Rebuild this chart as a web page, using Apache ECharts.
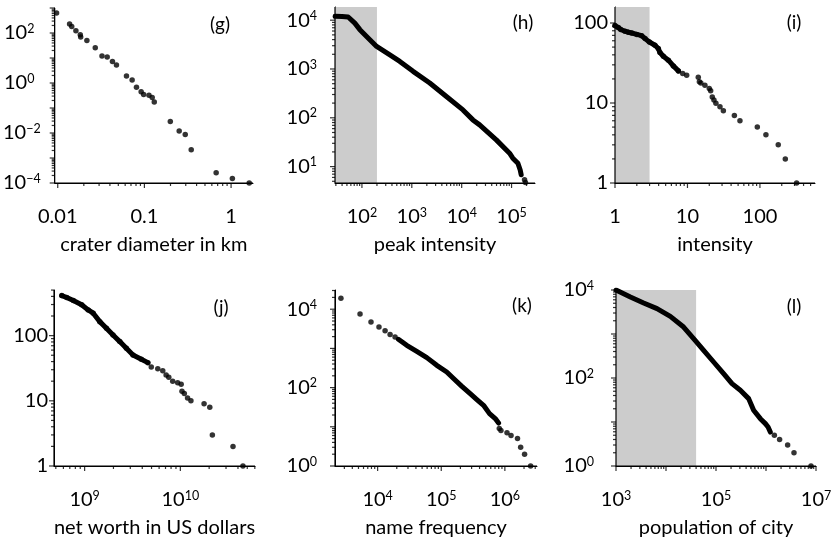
<!DOCTYPE html>
<html>
<head>
<meta charset="utf-8">
<script src="https://cdn.jsdelivr.net/npm/echarts@6/dist/echarts.min.js"></script>
</head>
<body style="margin:0">
<div id="chart" style="width:837px;height:542px"></div>
<script>
// data (complementary cumulative distributions, log-log)

// (g) crater diameter in km
const craterDiam  = [0.0097, 0.0137, 0.0145, 0.0162, 0.0182, 0.0184, 0.0217, 0.0271, 0.0324, 0.0372, 0.0428, 0.0476, 0.0621, 0.0722, 0.081, 0.0917, 0.098, 0.113, 0.123, 0.130, 0.199, 0.252, 0.296, 0.347, 0.673, 1.035, 1.62]
const craterCount = [630, 230, 184, 124, 85, 69, 50, 26, 12, 11, 7.3, 5.2, 1.9, 1.32, 0.67, 0.45, 0.35, 0.32, 0.265, 0.174, 0.0291, 0.012, 0.0088, 0.00215, 0.00026, 0.00015, 0.0001]
const craterXTicks = [0.01, 0.1, 1]
const craterYTicks = [1e-4, 1e-2, 1, 1e2]

// (h) peak intensity
const peakX = [29, 40, 53, 72, 91, 124, 197, 363, 575, 1060, 2290, 4940, 10600, 16800, 22900, 49400, 91200, 106000, 134000, 149000, 156000]
const peakY = [12000, 11900, 11600, 8700, 6400, 4650, 2900, 1950, 1430, 895, 516, 273, 145, 90.6, 71.6, 35.3, 18.8, 14.9, 11.7, 8.5, 6.8]
const peakTailX = [182000, 190000]
const peakTailY = [5.4, 4.7]
const peakShade = [29, 200]
const peakXTicks = [1e2, 1e3, 1e4, 1e5]
const peakYTicks = [1e1, 1e2, 1e3, 1e4]

// (i) intensity
const intenX = [1.0, 1.11, 1.2, 1.37, 1.53, 1.70, 2.0, 2.33, 2.6, 2.98, 3.56, 3.96, 4.17, 4.65, 5.45, 6.38, 7.5]
const intenY = [93, 87.7, 83, 79, 76.6, 75, 72, 69.5, 63.8, 57.9, 52.7, 48, 42.7, 38.4, 34.3, 29.1, 25.2]
const intenDotX = [8.6, 9.75, 14.1, 14.6, 15.3, 17.4, 20, 20.9, 22, 23.2, 24.7, 28.1, 31.3, 44.4, 53, 92, 121, 179, 224, 321]
const intenDotY = [23.4, 22.3, 21, 18.4, 17.8, 16.7, 15.2, 14.2, 11.9, 10.9, 9.9, 9, 8, 7, 6, 5, 4, 3, 2, 1]
const intenShade = [1, 3]
const intenXTicks = [1, 10, 100]
const intenYTicks = [1, 10, 100]

// (j) net worth in US dollars
const worthX = [5.77e8, 6.5e8, 7.62e8, 9.31e8, 1.09e9, 1.23e9, 1.44e9, 1.69e9, 1.98e9, 2.33e9, 2.73e9, 3.2e9, 3.91e9, 4.58e9]
const worthY = [412, 385, 346, 297, 248, 221, 164, 130, 102, 81, 64, 50.5, 43.4, 38.5]
const worthDotX = [4.97e9, 5.81e9, 6.55e9, 7.1e9, 7.57e9, 8.32e9, 9.38e9, 1.02e10, 1.04e10, 1.1e10, 1.19e10, 1.29e10, 1.77e10, 2.03e10, 2.16e10, 3.55e10, 4.51e10]
const worthDotY = [33, 31, 29, 25, 23, 20, 19, 18, 14, 13, 11, 10, 9, 8, 3, 2, 1]
const worthXTicks = [1e9, 1e10]
const worthYTicks = [1, 10, 100]

// (k) name frequency
const nameHeadX = [2650, 5290, 7870, 10500, 13100, 15700, 18800]
const nameHeadY = [19000, 7550, 4710, 3510, 2840, 2250, 1950]
const nameX = [21200, 28700, 41200, 59300, 85100, 122000, 156000, 211000, 285000, 363000, 462000, 574000, 706000, 796000]
const nameY = [1710, 1200, 843, 582, 370, 250, 170, 108, 70.3, 49.5, 35.3, 21.7, 16.2, 12.5]
const nameTailX = [817000, 867000, 1.08e6, 1.25e6, 1.58e6, 1.77e6, 2.04e6, 2.54e6]
const nameTailY = [9, 8, 7, 6, 5, 3, 2, 1]
const nameXTicks = [1e4, 1e5, 1e6]
const nameYTicks = [1, 1e2, 1e4]

// (l) population of city
const cityX = [1000, 1940, 3570, 6610, 12200, 22500, 39800, 56600, 89700, 142000, 209000, 307000, 450000, 566000, 771000, 971000, 1.1e6, 1.22e6]
const cityY = [10000, 6920, 5070, 3780, 2520, 1440, 682, 427, 231, 126, 74.6, 52.5, 34, 18.5, 11.9, 9.2, 7.7, 5.9]
const cityTailX = [1.47e6, 1.87e6, 2.71e6, 3.63e6, 7.94e6]
const cityTailY = [5, 4, 3, 2, 1]
const cityShade = [1000, 40000]
const cityXTicks = [1e3, 1e5, 1e7]
const cityYTicks = [1, 1e2, 1e4]

const FONT = 'Lato'
const FS = 20
const log = v => Math.log10(v)
const pts = (xs, ys) => xs.map((x, i) => [log(x), log(ys[i])])

// decade and 2..9 sub-decade positions (log10 units) inside [min, max]
function decades(min, max) {
    const out = []
    for (let e = Math.ceil(min - 1e-9); e <= max + 1e-9; e++) out.push(e)
    return out
}
function minors(min, max) {
    const out = []
    for (let e = Math.floor(min) - 1; e <= Math.ceil(max); e++) {
        for (let k = 2; k <= 9; k++) {
            const v = e + Math.log10(k)
            if (v >= min - 1e-9 && v <= max + 1e-9) out.push(v)
        }
    }
    return out
}
function formatter(style) {
    return function (v) {
        const e = Math.round(v)
        if (style === 'pow') return '{b|10}{s|' + (e < 0 ? '\u2212' + (-e) : e) + '}'
        // same width for signed and unsigned exponents, so the labels line up on the left
        if (style === 'powfix') return '{b|10}{s|' + (e < 0 ? '\u2212' + (-e) : e + '\u2002') + '}'
        return '{b|' + (e < 0 ? Math.pow(10, e).toFixed(-e) : String(Math.pow(10, e))) + '}'
    }
}
function richStyle() {
    return {
        b: { fontSize: FS, lineHeight: 22, fontFamily: FONT, color: '#000' },
        s: { fontSize: 12.5, lineHeight: 11, verticalAlign: 'top', fontFamily: FONT, color: '#000' }
    }
}

// layout of the six panels
const panels = [
    { grid: [54, 8, 199, 175], x: [-2.035, 0.253], y: [-4, 3], xt: craterXTicks, yt: craterYTicks, xs: 'dec', ys: 'powfix', yMargin: 14,
      name: 'crater diameter in km', tag: '(g)', tagPos: [220, 25],
      dots: [pts(craterDiam, craterCount)] },
    { grid: [335, 7, 200, 176], x: [1.46, 5.47], y: [0.664, 4.27], xt: peakXTicks, yt: peakYTicks, xs: 'pow', ys: 'pow', yMargin: 18,
      name: 'peak intensity', tag: '(h)', tagPos: [523, 23], shade: peakShade,
      lines: [pts(peakX, peakY)], dots: [pts(peakTailX, peakTailY)] },
    { grid: [615, 7, 200, 176], x: [0, 2.76], y: [0, 2.2], xt: intenXTicks, yt: intenYTicks, xs: 'dec', ys: 'dec', yMargin: 7,
      name: 'intensity', tag: '(i)', tagPos: [794, 23], shade: intenShade,
      lines: [pts(intenX, intenY)], dots: [pts(intenX, intenY), pts(intenDotX, intenDotY)] },
    { grid: [54, 290, 201, 176], x: [8.68, 10.78], y: [0, 2.7], xt: worthXTicks, yt: worthYTicks, xs: 'pow', ys: 'dec', yMargin: 6,
      name: 'net worth in US dollars', tag: '(j)', tagPos: [221, 308],
      lines: [pts(worthX, worthY)], dots: [pts(worthX, worthY), pts(worthDotX, worthDotY)] },
    { grid: [335, 290, 202, 176], x: [3.33, 6.505], y: [0, 4.49], xt: nameXTicks, yt: nameYTicks, xs: 'pow', ys: 'pow', yMargin: 18,
      name: 'name frequency', tag: '(k)', tagPos: [522, 306],
      lines: [pts(nameX, nameY)], dots: [pts(nameHeadX, nameHeadY), pts(nameTailX, nameTailY)] },
    { grid: [616, 290, 200, 176], x: [3, 7], y: [0, 4], xt: cityXTicks, yt: cityYTicks, xs: 'pow', ys: 'pow', yMargin: 22,
      name: 'population of city', tag: '(l)', tagPos: [794, 307], shade: cityShade,
      lines: [pts(cityX, cityY)], dots: [pts(cityTailX, cityTailY)] }
]

const grid = [], xAxis = [], yAxis = [], series = [], graphic = []

// one tick mark as a thin rect symbol sitting outside the plot edge
function xTick(v, y, len) {
    return { value: [v, y], symbolSize: [1.2, len], symbolOffset: [0, len / 2] }
}
function yTick(x, v, len) {
    return { value: [x, v], symbolSize: [len, 1.2], symbolOffset: [-len / 2, 0] }
}

panels.forEach((p, i) => {
    grid.push({ left: p.grid[0], top: p.grid[1], width: p.grid[2], height: p.grid[3] })
    xAxis.push({
        type: 'value', gridIndex: i, min: p.x[0], max: p.x[1],
        axisLine: { show: true, onZero: false, lineStyle: { color: '#000', width: 1 } },
        axisTick: { show: false }, splitLine: { show: false },
        axisLabel: { customValues: p.xt.map(log), formatter: formatter(p.xs), margin: 23, rich: richStyle() },
        name: p.name, nameLocation: 'middle', nameGap: 52,
        nameTextStyle: { fontSize: FS, fontFamily: FONT, color: '#000' }
    })
    yAxis.push({
        type: 'value', gridIndex: i, min: p.y[0], max: p.y[1],
        axisLine: { show: true, onZero: false, lineStyle: { color: '#000', width: 1 } },
        axisTick: { show: false }, splitLine: { show: false },
        axisLabel: { customValues: p.yt.map(log), formatter: formatter(p.ys), margin: p.yMargin, rich: richStyle() }
    })

    const ax = { xAxisIndex: i, yAxisIndex: i }
    if (p.shade) {
        series.push(Object.assign({
            type: 'line', data: [], z: 1,
            markArea: { itemStyle: { color: '#cccccc' }, data: [[{ xAxis: log(p.shade[0]) }, { xAxis: log(p.shade[1]) }]] }
        }, ax))
    }
    // left and bottom frame along the axis extents
    series.push(Object.assign({
        type: 'line', data: [[p.x[0], p.y[1]], [p.x[0], p.y[0]], [p.x[1], p.y[0]]],
        showSymbol: false, symbol: 'none',
        lineStyle: { color: '#000', width: 1.2 }
    }, ax))
    // decade and sub-decade ticks
    const ticks = []
    decades(p.x[0], p.x[1]).forEach(v => ticks.push(xTick(v, p.y[0], 5)))
    minors(p.x[0], p.x[1]).forEach(v => ticks.push(xTick(v, p.y[0], 3)))
    decades(p.y[0], p.y[1]).forEach(v => ticks.push(yTick(p.x[0], v, 5)))
    minors(p.y[0], p.y[1]).forEach(v => ticks.push(yTick(p.x[0], v, 3)))
    series.push(Object.assign({
        type: 'scatter', data: ticks, symbol: 'rect', clip: false,
        itemStyle: { color: '#000' }
    }, ax));
    (p.lines || []).forEach(d => series.push(Object.assign({
        type: 'line', data: d, showSymbol: false, symbol: 'none',
        lineStyle: { color: '#000', width: 5, cap: 'round', join: 'round' }
    }, ax)));
    (p.dots || []).forEach(d => series.push(Object.assign({
        type: 'scatter', data: d, symbolSize: 5.5,
        itemStyle: { color: '#000' }
    }, ax)))
    graphic.push({
        type: 'text', x: p.tagPos[0], y: p.tagPos[1],
        style: { text: p.tag, fontSize: 19, fontFamily: FONT, fill: '#000', align: 'center', verticalAlign: 'middle' }
    })
})

const chart = echarts.init(document.getElementById('chart'))
chart.setOption({
    animation: false,
    grid: grid,
    xAxis: xAxis,
    yAxis: yAxis,
    series: series,
    graphic: graphic
})
</script>
</body>
</html>
